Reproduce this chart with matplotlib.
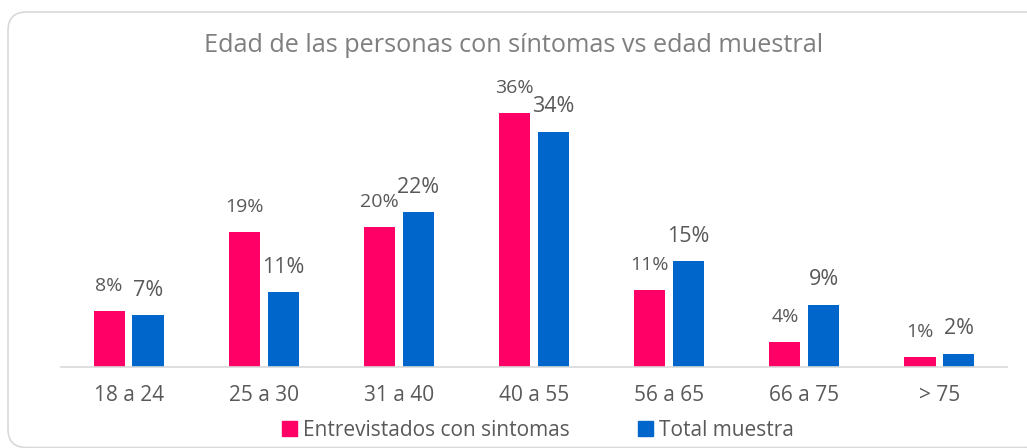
import numpy as np
import matplotlib.pyplot as plt
from matplotlib.patches import FancyBboxPatch, Patch

plt.rcParams['font.family'] = ['Open Sans', 'DejaVu Sans']

categories = ["18 a 24", "25 a 30", "31 a 40", "40 a 55", "56 a 65", "66 a 75", "> 75"]
sintomas = [8.0, 19.1, 19.8, 36.0, 10.9, 3.6, 1.4]
muestra = [7.3, 10.6, 21.9, 33.3, 15.0, 8.8, 1.9]
sintomas_lbl = ["8%", "19%", "20%", "36%", "11%", "4%", "1%"]
muestra_lbl = ["7%", "11%", "22%", "34%", "15%", "9%", "2%"]

pink = "#FF0066"
blue = "#0066CC"
grey_txt = "#595959"

fig = plt.figure(figsize=(10.27, 4.48), dpi=100)

# rounded frame around the chart (right side runs off the image)
frame = FancyBboxPatch((8 / 1027, 0.5 / 448), 1035 / 1027, 435.5 / 448,
                       boxstyle="round,pad=0,rounding_size=0.018",
                       transform=fig.transFigure, facecolor="white",
                       edgecolor="#D9D9D9", linewidth=1.2,
                       mutation_aspect=1027 / 448, zorder=-1)
fig.patches.append(frame)

ax = fig.add_axes([61 / 1027, (448 - 367) / 448, (1007 - 61) / 1027, (367 - 95) / 448])
ax.set_facecolor("none")

x = np.arange(len(categories))
w = 0.23
off = 0.144
b1 = ax.bar(x - off, sintomas, w, color=pink, label="Entrevistados con sintomas")
b2 = ax.bar(x + off, muestra, w, color=blue, label="Total muestra")

for rect, t in zip(b1, sintomas_lbl):
    ax.annotate(t, (rect.get_x() + rect.get_width() / 2, rect.get_height()),
                xytext=(0, 18), textcoords="offset points", ha="center", va="center",
                fontsize=14, color=grey_txt)
for rect, t in zip(b2, muestra_lbl):
    ax.annotate(t, (rect.get_x() + rect.get_width() / 2, rect.get_height()),
                xytext=(0, 18), textcoords="offset points", ha="center", va="center",
                fontsize=15.5, color=grey_txt)

ax.set_xlim(-0.5, len(categories) - 0.5)
ax.set_ylim(0, 272 / 7.06)
ax.set_yticks([])
ax.set_xticks(x)
ax.set_xticklabels(categories, fontsize=15, color=grey_txt)
ax.tick_params(axis="x", length=0, pad=13)
for s in ["top", "right", "left"]:
    ax.spines[s].set_visible(False)
ax.spines["bottom"].set_color("#D9D9D9")
ax.spines["bottom"].set_linewidth(1.2)

fig.text(0.5, 1 - 45 / 448, "Edad de las personas con síntomas vs edad muestral",
         ha="center", va="center", fontsize=18.2, color="#7F7F7F")

handles = [Patch(color=pink), Patch(color=blue)]
fig.legend(handles, ["Entrevistados con sintomas", "Total muestra"],
           loc="center", bbox_to_anchor=(538 / 1027, 1 - 430 / 448), ncol=2,
           frameon=False, fontsize=15, handlelength=0.7, handleheight=0.7,
           handletextpad=0.3, columnspacing=3.3, labelcolor=grey_txt)

fig.savefig("out.png", dpi=100)
